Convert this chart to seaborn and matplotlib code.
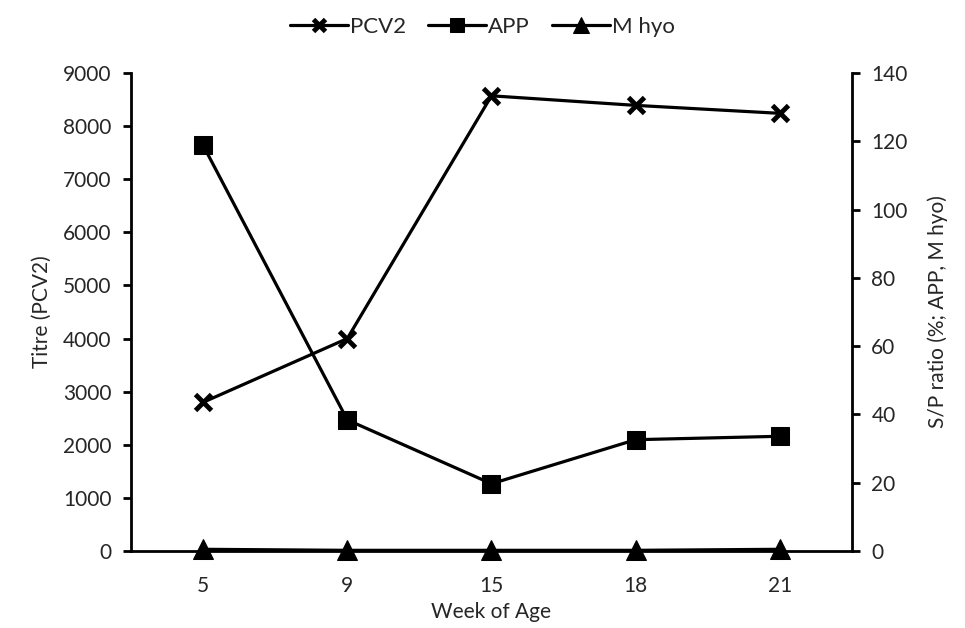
import matplotlib
matplotlib.use("Agg")
import matplotlib.pyplot as plt
import seaborn as sns
import pandas as pd

weeks = ["5", "9", "15", "18", "21"]
pcv2 = [2800, 4000, 8570, 8390, 8240]
app = [118.8, 38.4, 19.7, 32.6, 33.6]
mhyo = [0.5, 0.2, 0.2, 0.2, 0.5]

sns.set_theme(style="white")
plt.rcParams['font.family'] = ['Lato', 'DejaVu Sans']

pos = list(range(len(weeks)))
df_left = pd.DataFrame({"pos": pos, "PCV2": pcv2})
df_right = pd.DataFrame({"pos": pos, "APP": app, "M hyo": mhyo})

fig = plt.figure(figsize=(9.65, 6.28), dpi=100)
ax = fig.add_axes([0.1358, 0.1226, 0.747, 0.7612])
ax2 = ax.twinx()

lw = 2.3
fs = 15
tc = "#262626"
sns.lineplot(data=df_left, x="pos", y="PCV2", ax=ax, color="black", lw=lw,
             marker="x", markersize=11, markeredgewidth=3.5, markeredgecolor="black",
             label="PCV2", legend=False)
sns.lineplot(data=df_right, x="pos", y="APP", ax=ax2, color="black", lw=lw,
             marker="s", markersize=13, markeredgecolor="black", label="APP", legend=False)
sns.lineplot(data=df_right, x="pos", y="M hyo", ax=ax2, color="black", lw=lw,
             marker="^", markersize=14, markeredgecolor="black", label="M hyo", legend=False,
             clip_on=False, zorder=5)

ax.set_xlim(-0.5, 4.5)
ax.set_ylim(0, 9000)
ax2.set_ylim(0, 140)
ax.set_yticks(range(0, 9001, 1000))
ax2.set_yticks(range(0, 141, 20))
ax.set_xticks(pos)
ax.set_xticklabels(weeks)

for a in (ax, ax2):
    for s in a.spines.values():
        s.set_visible(False)
    a.tick_params(labelsize=fs, colors=tc, labelcolor=tc)

ax.spines["left"].set_visible(True)
ax.spines["bottom"].set_visible(True)
ax2.spines["right"].set_visible(True)
for sp in (ax.spines["left"], ax.spines["bottom"], ax2.spines["right"]):
    sp.set_color("black")
    sp.set_linewidth(2)

ax.tick_params(axis="y", direction="out", length=6, width=2, left=True, pad=8, colors="black", labelcolor=tc)
ax.tick_params(axis="x", length=0, pad=18)
ax2.tick_params(axis="y", direction="out", length=6, width=2, right=True, pad=8, colors="black", labelcolor=tc)

ax.set_xlabel("Week of Age", fontsize=fs, color=tc, labelpad=4)
ax.set_ylabel("Titre (PCV2)", fontsize=fs, color=tc, labelpad=8)
ax2.set_ylabel("S/P ratio (%; APP, M hyo)", fontsize=fs, color=tc, labelpad=14)
ax.grid(False)
ax2.grid(False)

h1, l1 = ax.get_legend_handles_labels()
h2, l2 = ax2.get_legend_handles_labels()
fig.legend(h1 + h2, l1 + l2, loc="upper center", bbox_to_anchor=(0.5, 1.005), ncol=3,
           frameon=False, fontsize=16, handlelength=2.6, columnspacing=1.0, handletextpad=0.1,
           markerscale=0.8)

fig.savefig("out.png", dpi=100)
